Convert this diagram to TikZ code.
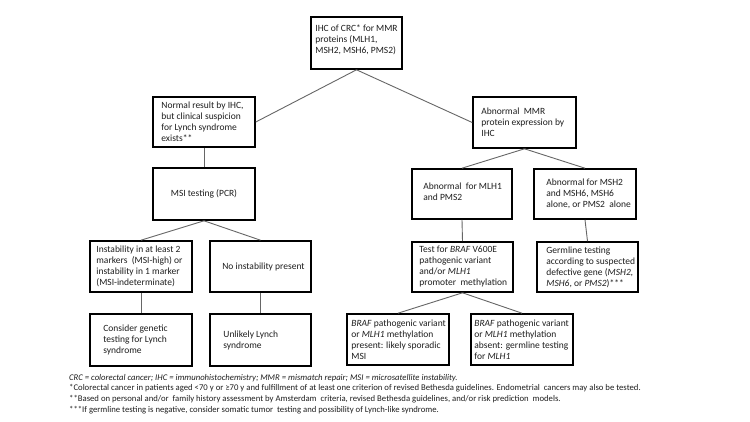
\documentclass[tikz,border=0pt]{standalone}
\usepackage{fontspec}
\setmainfont{Carlito}
\begin{document}
\begin{tikzpicture}[x=1pt,y=-1pt,
  box/.style={draw=black,line width=1.6pt,inner sep=0pt,rectangle},
  txt/.style={inner sep=0pt,align=left,font=\fontsize{9.5}{11}\selectfont,text=black!88},
  ctxt/.style={inner sep=0pt,align=center,font=\fontsize{9.5}{11}\selectfont,text=black!88},
  fn/.style={inner sep=0pt,anchor=base west,font=\fontsize{8.7}{10}\selectfont,text=black!88},
  link/.style={draw=black!60,line width=0.9pt}]
\useasboundingbox[fill=white] (0,0) rectangle (750,422);
% boxes
\node[box,minimum width=91pt,minimum height=52pt] (top) at (356.5,43) {};
\node[box,minimum width=102pt,minimum height=50pt] (normal) at (204,122) {};
\node[box,minimum width=103pt,minimum height=51pt] (abn) at (524.5,122.5) {};
\node[box,minimum width=102pt,minimum height=52pt] (msi) at (204,194) {};
\node[box,minimum width=100pt,minimum height=50pt] (mlh) at (462,194) {};
\node[box,minimum width=102pt,minimum height=50pt] (msh) at (585,194) {};
\node[box,minimum width=102pt,minimum height=51pt] (instab) at (141,266.5) {};
\node[box,minimum width=101pt,minimum height=51pt] (noinst) at (260.5,266.5) {};
\node[box,minimum width=101pt,minimum height=50pt] (braf) at (462.5,267) {};
\node[box,minimum width=101pt,minimum height=50pt] (germ) at (587.5,267) {};
\node[box,minimum width=102pt,minimum height=52pt] (consider) at (141,340) {};
\node[box,minimum width=101pt,minimum height=52pt] (unlikely) at (260.5,340) {};
\node[box,minimum width=102pt,minimum height=51pt] (present) at (398,339.5) {};
\node[box,minimum width=102pt,minimum height=51pt] (absent) at (522,339.5) {};
% texts
\node[txt,anchor=west] (top-t) at ([xshift=5pt,yshift=3pt]top.west) {IHC of CRC* for MMR\\proteins (MLH1,\\MSH2, MSH6, PMS2)};
\node[txt,anchor=west] (normal-t) at ([xshift=9pt]normal.west) {Normal result by IHC,\\but clinical suspicion\\for Lynch syndrome\\exists**};
\node[txt,anchor=west] (abn-t) at ([xshift=9pt]abn.west) {Abnormal\ \ MMR\\protein expression by\\IHC};
\node[ctxt] (msi-t) at (msi.center) {MSI testing (PCR)};
\node[txt,anchor=west] (mlh-t) at ([xshift=12pt,yshift=2pt]mlh.west) {Abnormal\ \ for MLH1\\and PMS2};
\node[txt,anchor=west] (msh-t) at ([xshift=13pt]msh.west) {Abnormal for MSH2\\and MSH6, MSH6\\alone, or PMS2\ \ alone};
\node[txt,anchor=west] (instab-t) at ([xshift=7pt]instab.west) {Instability in at least 2\\markers\ \ (MSI-high) or\\instability in 1 marker\\(MSI-indeterminate)};
\node[ctxt] (noinst-t) at ([xshift=3pt]noinst.center) {No instability present};
\node[txt,anchor=west] (braf-t) at ([xshift=8pt]braf.west) {Test for \textit{BRAF} V600E\\pathogenic variant\\and/or \textit{MLH1}\\promoter\ \ methylation};
\node[txt,anchor=west] (germ-t) at ([xshift=10pt]germ.west) {Germline testing\\according to suspected\\defective gene (\textit{MSH2,}\\\textit{MSH6}, or \textit{PMS2})***};
\node[txt,anchor=west] (consider-t) at ([xshift=14pt]consider.west) {Consider genetic\\testing for Lynch\\syndrome};
\node[txt,anchor=west] (unlikely-t) at ([xshift=14pt]unlikely.west) {Unlikely Lynch\\syndrome};
\node[txt,anchor=west] (present-t) at ([xshift=5pt]present.west) {\textit{BRAF} pathogenic variant\\or \textit{MLH1} methylation\\present: likely sporadic\\MSI};
\node[txt,anchor=west] (absent-t) at ([xshift=4pt]absent.west) {\textit{BRAF} pathogenic variant\\or \textit{MLH1} methylation\\absent: germline testing\\for \textit{MLH1}};
% connectors
\draw[link] (top.south) -- (normal.east);
\draw[link] (top.south) -- (abn.west);
\draw[link] (normal.south) -- (msi.north);
\draw[link] (msi.south) -- (instab.north);
\draw[link] (msi.south) -- (noinst.north);
\draw[link] (instab.south) -- (consider.north);
\draw[link] (noinst.south) -- (unlikely.north);
\draw[link] (abn.south) -- (mlh.north);
\draw[link] (abn.south) -- (msh.north);
\draw[link] (mlh.south) -- (braf.north);
\draw[link] (msh.south) -- (germ.north);
\draw[link] (braf.south) -- (present.north);
\draw[link] (braf.south) -- (absent.north);
% footnotes
\node[fn] (fn1) at (69,380) {\textit{CRC = colorectal cancer; IHC = immunohistochemistry; MMR = mismatch repair; MSI = microsatellite instability.}};
\node[fn] (fn2) at (69,390.5) {*Colorectal cancer in patients aged <70 y or ≥70 y and fulfillment of at least one criterion of revised Bethesda guidelines. Endometrial\ \ cancers may also be tested.};
\node[fn] (fn3) at (69,401.5) {**Based on personal and/or\ \ family history assessment by Amsterdam\ \ criteria, revised Bethesda guidelines, and/or risk prediction\ \ models.};
\node[fn] (fn4) at (69,412.5) {***If germline testing is negative, consider somatic tumor\ \ testing and possibility of Lynch-like syndrome.};
\end{tikzpicture}
\end{document}
